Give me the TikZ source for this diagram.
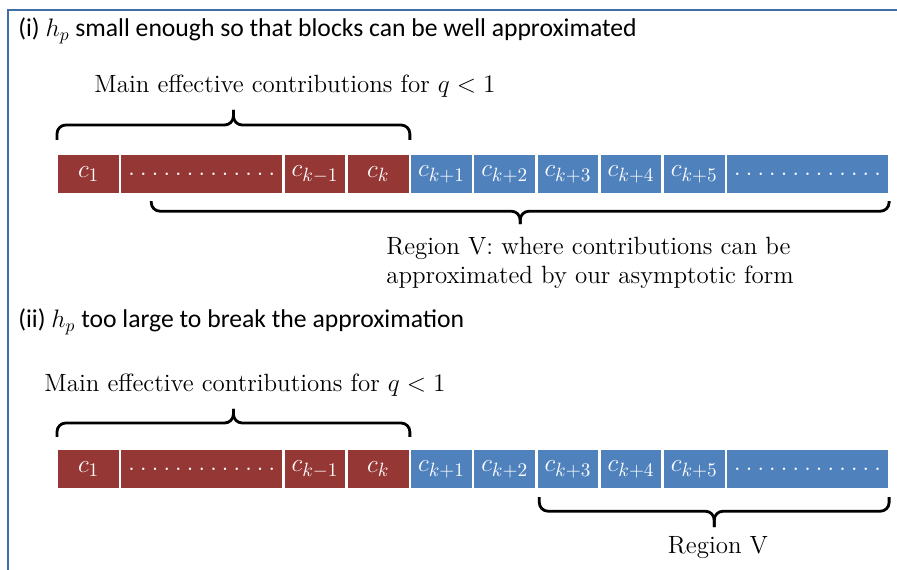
\documentclass[tikz,border=0pt]{standalone}
\usepackage{fontspec}
\newfontfamily\titlefont{Carlito}
\usepackage{tikz}
\usetikzlibrary{positioning,calc}
\definecolor{blockred}{HTML}{953735}
\definecolor{blockblue}{HTML}{4F81BD}
\definecolor{framecol}{HTML}{3F6DA5}
\newcommand{\blockdots}{{\fontsize{17}{18}\selectfont\foreach \i in {1,...,12}{.\hspace{2.4pt}}.}}

\begin{document}
\begin{tikzpicture}[x=0.02cm,y=-0.02cm,
                redblock/.style={rectangle, fill=blockred, draw=white, line width=0.7pt, minimum width=1.24cm, minimum height=0.78cm, inner sep=0pt, text=white, font=\fontsize{15.5}{18}\selectfont},
                blueblock/.style={redblock, fill=blockblue},
                wideblock/.style={minimum width=3.24cm},
                bracket/.style={line width=1.6pt, rounded corners=5pt},
                note/.style={font=\fontsize{14.2}{16.5}\selectfont, inner sep=0pt},
                headline/.style={font=\titlefont\fontsize{14.6}{16}\selectfont, inner sep=0pt, anchor=west},
                node distance=0pt
            ]
            \useasboundingbox (0,0) rectangle (897,570);
            %Frame
            \draw[framecol, line width=1.5pt] (8,575) |- (900,10);

            %Part (i)
            \node[headline] (titlei) at (18,31) {(i) $h_p$ small enough so that blocks can be well approximated};
            \node[redblock, anchor=north west] (a1) at (57,154) {$c_1$};
            \node[redblock, wideblock]  (adots) [right=of a1]    {\blockdots};
            \node[redblock]             (akm)   [right=of adots] {$c_{k-1}$};
            \node[redblock]             (ak)    [right=of akm]   {$c_k$};
            \node[blueblock]            (akp1)  [right=of ak]    {$c_{k+1}$};
            \node[blueblock]            (akp2)  [right=of akp1]  {$c_{k+2}$};
            \node[blueblock]            (akp3)  [right=of akp2]  {$c_{k+3}$};
            \node[blueblock]            (akp4)  [right=of akp3]  {$c_{k+4}$};
            \node[blueblock]            (akp5)  [right=of akp4]  {$c_{k+5}$};
            \node[blueblock, wideblock] (aend)  [right=of akp5]  {\blockdots};

            \coordinate (amid) at ($(a1.north west)!0.5!(ak.north east)$);
            \node[note] (mainA) at (295,86) {Main effective contributions for $q<1$};
            \draw[bracket] ($(a1.north west)+(0,-14)$) |- ($(amid)+(0,-29)$) -- ($(amid)+(0,-44)$);
            \draw[bracket] ($(ak.north east)+(0,-14)$) |- ($(amid)+(0,-29)$) -- ($(amid)+(0,-44)$);

            \coordinate (rstart) at ($(adots.south west)+(31,0)$);
            \coordinate (rmid) at ($(rstart)!0.5!(aend.south east)$);
            \node[note, anchor=west, align=left] (regA) at (386,263) {Region V: where contributions can be\\approximated by our asymptotic form};
            \draw[bracket] ($(rstart)+(0,7)$) |- ($(rmid)+(0,17)$) -- ($(rmid)+(0,30)$);
            \draw[bracket] ($(aend.south east)+(0,7)$) |- ($(rmid)+(0,17)$) -- ($(rmid)+(0,30)$);

            %Part (ii)
            \node[headline] (titleii) at (18,322) {(ii) $h_p$ too large to break the approximation};
            \node[redblock, anchor=north west] (b1) at (57,449) {$c_1$};
            \node[redblock, wideblock]  (bdots) [right=of b1]    {\blockdots};
            \node[redblock]             (bkm)   [right=of bdots] {$c_{k-1}$};
            \node[redblock]             (bk)    [right=of bkm]   {$c_k$};
            \node[blueblock]            (bkp1)  [right=of bk]    {$c_{k+1}$};
            \node[blueblock]            (bkp2)  [right=of bkp1]  {$c_{k+2}$};
            \node[blueblock]            (bkp3)  [right=of bkp2]  {$c_{k+3}$};
            \node[blueblock]            (bkp4)  [right=of bkp3]  {$c_{k+4}$};
            \node[blueblock]            (bkp5)  [right=of bkp4]  {$c_{k+5}$};
            \node[blueblock, wideblock] (bend)  [right=of bkp5]  {\blockdots};

            \coordinate (bmid) at ($(b1.north west)!0.5!(bk.north east)$);
            \node[note] (mainB) at (245,385) {Main effective contributions for $q<1$};
            \draw[bracket] ($(b1.north west)+(0,-12)$) |- ($(bmid)+(0,-26)$) -- ($(bmid)+(0,-40)$);
            \draw[bracket] ($(bk.north east)+(0,-12)$) |- ($(bmid)+(0,-26)$) -- ($(bmid)+(0,-40)$);

            \coordinate (sstart) at ($(bkp3.south west)+(3,0)$);
            \coordinate (smid) at ($(sstart)!0.5!(bend.south east)$);
            \node[note] (regB) at (718,548) {Region V};
            \draw[bracket] ($(sstart)+(0,8)$) |- ($(smid)+(0,22)$) -- ($(smid)+(0,38)$);
            \draw[bracket] ($(bend.south east)+(0,8)$) |- ($(smid)+(0,22)$) -- ($(smid)+(0,38)$);
        \end{tikzpicture}
\end{document}
